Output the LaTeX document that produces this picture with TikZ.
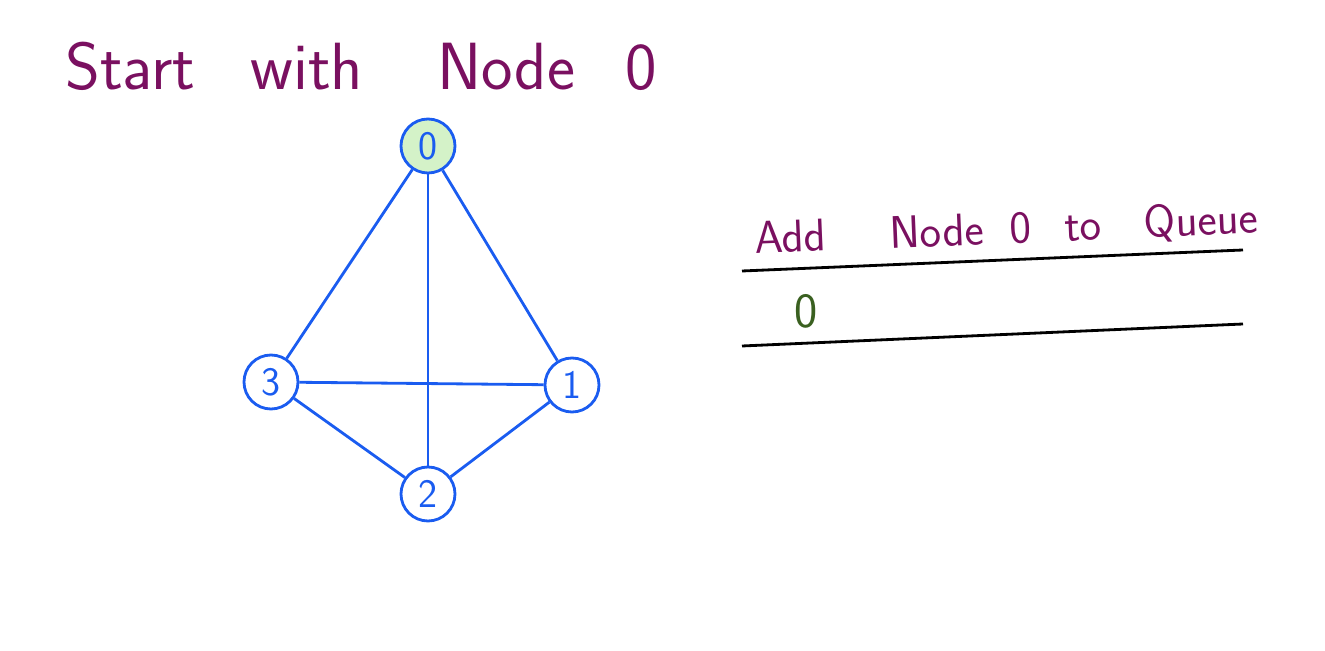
\documentclass[tikz,border=0pt]{standalone}
\usepackage{amsmath}
\usepackage{tikz}
\usetikzlibrary{positioning}

\definecolor{penblue}{HTML}{1A5CF0}
\definecolor{penpurple}{HTML}{7A1060}
\definecolor{pengreen}{HTML}{3A6020}
\definecolor{startfill}{HTML}{D4F2C8}

\tikzset{
  vert/.style={draw=penblue, line width=1.6pt, circle, minimum size=1.08cm, inner sep=0pt,
    text=penblue, font=\sffamily\fontsize{23}{25}\selectfont},
  link/.style={draw=penblue, line width=1.6pt},
  note/.style={text=penpurple, anchor=base west, inner sep=0pt, font=\sffamily},
  rule/.style={draw=black, line width=1.6pt}
}

\begin{document}
\begin{tikzpicture}
      \useasboundingbox (0,0) rectangle (26.5,13.02);

      \node[note, font=\sffamily\fontsize{38}{42}\selectfont] (T) at (1.3,11.22)
        {\makebox[3.7cm][l]{Start}\makebox[3.74cm][l]{with}\makebox[3.76cm][l]{Node}0};

      \draw (8.56,10.10) node[vert, fill=startfill] (N0) {0};
      \draw (11.44,5.32) node[vert] (N1) {1} (8.56,3.14) node[vert] (N2) {2} (5.42,5.38) node[vert] (N3) {3};
      \draw (N0) edge[link] (N3) edge[link] (N2) edge[link] (N1);
      \draw (N3) edge[link] (N1) edge[link] (N2);
      \draw (N2) edge[link] (N1);

      \node[note, rotate=2.4, font=\sffamily\fontsize{26}{30}\selectfont] (Q) at (15.1,7.94)
        {\makebox[2.7cm][l]{Add}\makebox[2.4cm][l]{Node}\makebox[1.1cm][l]{0}\makebox[1.6cm][l]{to}Queue};
      \coordinate (R1a) at (14.84,7.60);
      \coordinate (R1b) at (24.86,8.02);
      \coordinate (R2a) at (14.84,6.10);
      \coordinate (R2b) at (24.86,6.54);
      \draw[rule] (R1a) -- (R1b);
      \draw[rule] (R2a) -- (R2b);
      \node[text=pengreen, font=\sffamily\fontsize{28}{32}\selectfont] (Q0) at (16.12,6.80) {0};
    \end{tikzpicture}
\end{document}
